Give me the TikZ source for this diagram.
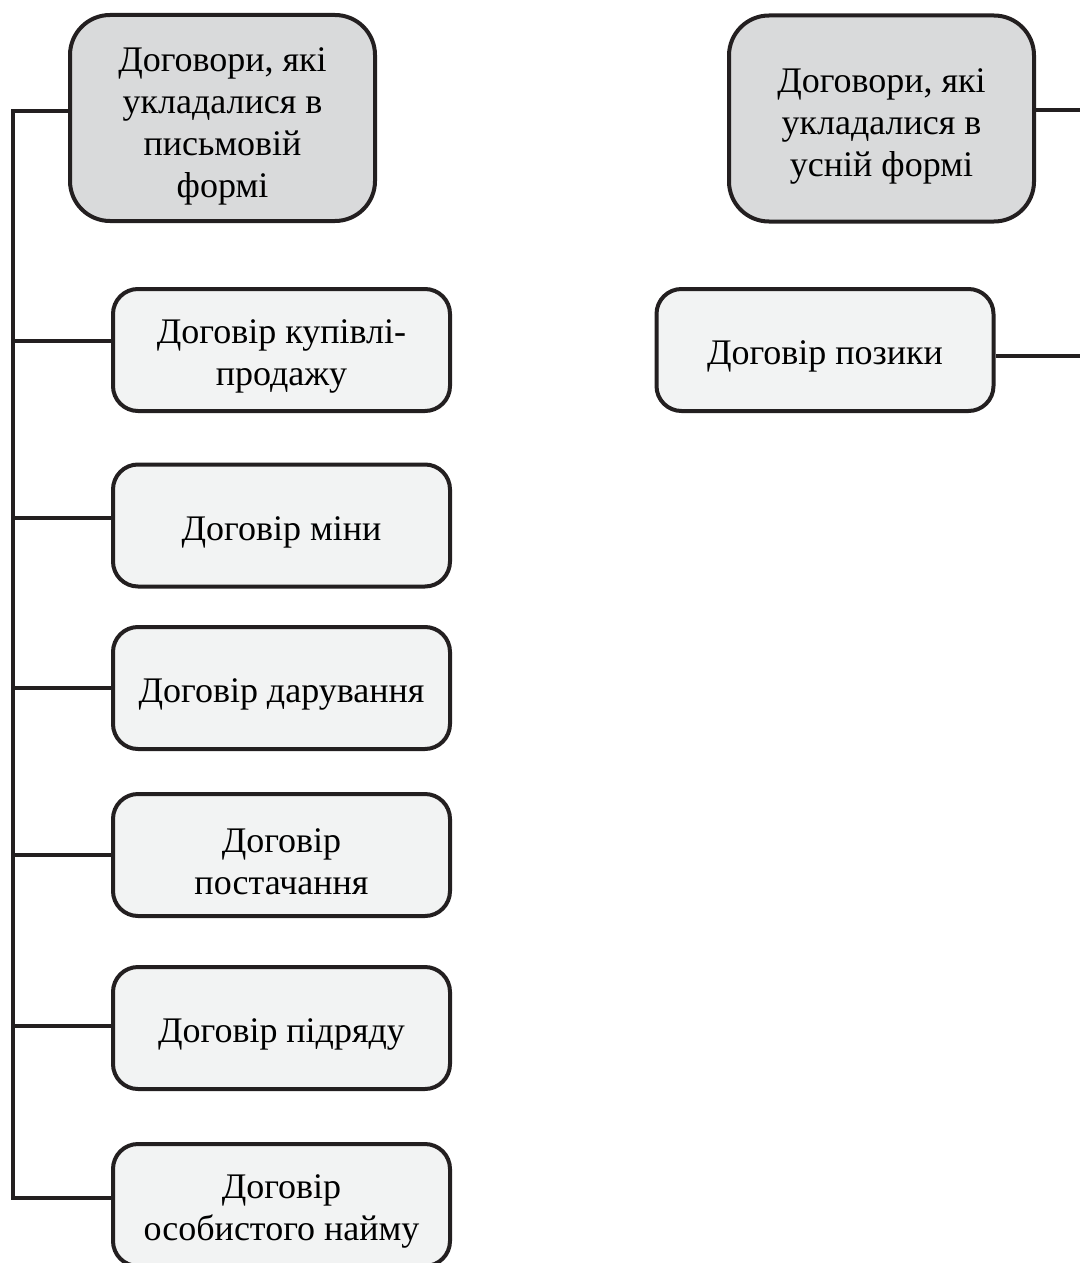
\documentclass[tikz,border=0pt]{standalone}
\usepackage{fontspec}
\setmainfont{Liberation Serif}
\usetikzlibrary{positioning}
\definecolor{edgeblack}{HTML}{231F20}
\definecolor{headgray}{HTML}{D9DADB}
\definecolor{itemgray}{HTML}{F2F3F3}
\newcommand{\lift}[1][18.5pt]{\rule{0pt}{#1}}

\begin{document}
\begin{tikzpicture}[
    x=0.5pt, y=-0.5pt,
    % Grey header boxes for the two forms of contract
    head/.style={
        draw=edgeblack,
        line width=2pt,
        fill=headgray,
        rounded corners=20pt,
        minimum width=152.5pt,
        minimum height=103pt,
        align=center,
        font=\fontsize{18}{21}\selectfont
    },
    % Light boxes for the single contracts
    item/.style={
        draw=edgeblack,
        line width=2pt,
        fill=itemgray,
        rounded corners=12.5pt,
        minimum width=168.5pt,
        minimum height=61pt,
        align=center,
        font=\fontsize{18}{21}\selectfont
    },
    link/.style={draw=edgeblack, line width=2pt}
]
    \useasboundingbox (0,0) rectangle (1080,1263);

    % --- WRITTEN FORM (left column) ---
    \node(head-w)[head] at (222.5,118) {\lift[20pt]Договори, які\\укладалися в\\письмовій\\формі};

    \coordinate (trunk-top) at (13,111);
    \coordinate (trunk-end) at (13,1198);

    \foreach \i/\cy/\ly/\txt in {
        1/350/341/{Договір купівлі-\\продажу},
        2/525.5/518/{Договір міни},
        3/688/688/{Договір дарування},
        4/855/855/{Договір\\постачання},
        5/1028/1026/{Договір підряду}} {
        \node(item-\i)[item] at (281.5,\cy) {\lift\txt};
        \coordinate (trunk-\i) at (13,\ly);
        \draw[link] (trunk-\i) -- (item-\i.west |- trunk-\i);
    }
    \node(item-6)[item] at (281.5,1205) {\lift Договір\\особистого найму};

    % Trunk with the header and the last box at its ends
    \draw[link] (head-w.west |- trunk-top) -- (trunk-top) -- (trunk-end)
        -- (item-6.west |- trunk-end);

    % --- ORAL FORM (right column) ---
    \node(head-o)[head] at (881.5,118.5) {\lift[20pt]Договори, які\\укладалися в\\усній формі};
    \node(item-o)[item] at (825,350) {\lift Договір позики};

    \coordinate (edge-head) at (1080,110);
    \coordinate (edge-item) at (1080,356);
    \draw[link] (head-o.east |- edge-head) -- (edge-head);
    \draw[link] (item-o.east |- edge-item) -- (edge-item);
\end{tikzpicture}
\end{document}
